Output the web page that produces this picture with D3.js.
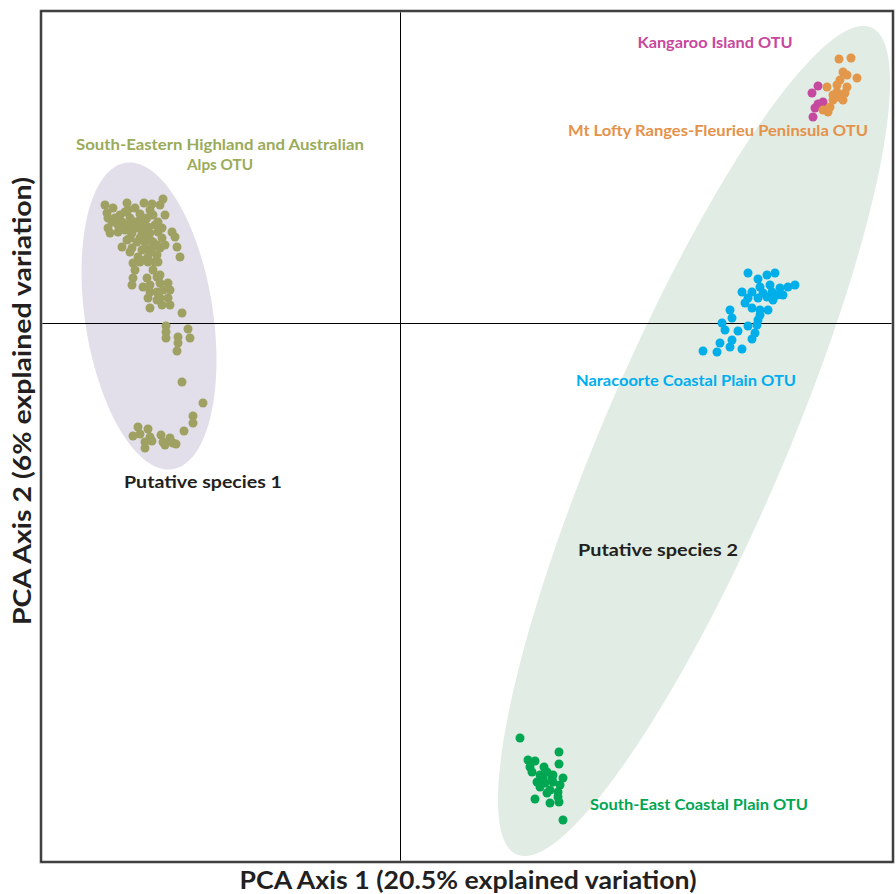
<!DOCTYPE html>
<html>
<head>
<meta charset="utf-8">
<script src="https://cdn.jsdelivr.net/npm/d3@7"></script>
<style>
  html, body { margin: 0; padding: 0; background: #ffffff; }
  svg { display: block; font-family: Lato, "Open Sans", sans-serif; }
</style>
</head>
<body>
<svg id="chart" width="896" height="894"></svg>
<script>
// PCA scores (axis 1, axis 2) for each sample, grouped by OTU
const seHighlandX = [-29.5,-28.7,-29.3,-27.3,-27.2,-25.6,-24.8,-24.0,-23.7,-23.5,-29.2,-28.5,-28.0,-27.8,-29.2,-29.0,-28.2,-28.8,-27.2,-26.5,-26.0,-25.3,-24.7,-26.2,-25.2,-24.5,-26.8,-25.8,-25.0,-24.2,-27.3,-26.3,-25.5,-24.7,-23.8,-22.8,-22.5,-22.3,-27.8,-26.8,-25.8,-24.8,-24.0,-26.2,-25.2,-24.3,-25.2,-24.2,-22.0,-27.0,-26.7,-26.5,-26.7,-26.8,-25.3,-24.3,-24.7,-24.0,-25.7,-25.0,-24.0,-23.2,-25.0,-24.3,-23.7,-23.0,-25.2,-24.0,-23.2,-23.0,-25.0,-23.8,-21.8,-24.3,-25.5,-24.5,-27.5,-27.0,-26.0,-25.3,-26.5,-25.5,-25.0,-24.3,-27.0,-26.0,-28.2,-27.5,-26.5,-25.0,-24.2,-23.8,-23.5,-25.5,-25.0,-26.0,-23.4,-21.2,-23.4,-23.4,-22.2,-21.0,-22.2,-22.3,-21.8,-19.7,-20.7,-20.7,-21.6,-26.2,-26.7,-25.2,-26.0,-25.0,-25.5,-24.8,-25.5,-23.9,-23.7,-23.0,-23.5,-22.7,-22.4];
const seHighlandY = [11.8,11.5,11.0,12.0,11.3,12.0,11.9,11.8,12.4,10.8,10.5,10.5,10.8,10.1,9.5,9.0,9.1,10.1,9.8,10.1,10.9,10.5,10.8,9.6,9.6,9.8,9.0,9.0,9.0,9.1,8.3,8.1,8.1,8.1,8.5,9.1,8.6,7.6,7.6,7.5,7.3,7.5,7.5,6.6,6.6,6.8,6.1,6.1,6.6,7.1,6.0,5.3,4.5,3.8,4.5,4.6,5.3,4.8,3.6,3.8,4.0,4.0,3.1,3.1,3.3,3.3,2.5,2.5,2.5,1.8,1.5,1.8,1.0,2.3,6.3,6.1,9.3,8.5,8.5,8.5,9.5,9.8,8.3,7.8,10.5,10.3,9.8,11.1,11.5,11.3,10.1,9.5,7.8,7.5,7.1,6.1,-0.3,-0.6,-0.9,-1.5,-1.4,-1.5,-2.0,-2.8,-5.9,-8.0,-9.3,-10.0,-10.8,-10.4,-11.3,-10.6,-11.1,-11.4,-11.9,-11.8,-12.5,-11.2,-11.9,-11.5,-12.2,-12.0,-12.1];

const naracoorteX = [34.8,35.8,36.7,37.5,37.0,36.0,35.2,34.2,36.3,37.2,38.0,38.8,39.5,37.7,38.3,36.7,37.3,34.8,35.8,34.5,35.2,36.0,36.8,36.0,33.0,33.2,35.8,32.2,32.5,33.8,34.8,35.7,35.5,35.2,33.2,32.0,33.0,34.2,31.7,30.3];
const naracoorteY = [5.0,4.4,4.8,5.0,3.8,3.6,3.1,3.1,3.0,3.1,3.5,3.6,3.8,2.8,2.8,2.6,2.3,2.5,2.5,2.0,1.5,1.3,1.3,0.8,1.3,0.5,0.3,0.0,-0.7,-0.8,-0.3,-0.2,-1.0,-1.6,-1.7,-2.0,-2.4,-2.6,-2.9,-2.8];

const kangarooX = [41.8,41.2,42.3,41.8,41.5,41.3];
const kangarooY = [23.7,23.0,22.1,21.9,21.5,20.6];

const mtLoftyX = [43.9,45.1,44.3,44.7,45.7,44.0,43.7,44.7,43.7,42.7,44.5,44.3,43.3,43.0,42.3,42.8,43.8,43.3];
const mtLoftyY = [26.4,26.5,25.1,24.8,24.5,24.3,23.8,23.6,23.1,23.6,23.0,22.3,22.3,21.6,21.3,21.1,22.6,22.8];

const seCoastalX = [12.0,15.9,12.8,13.5,13.0,14.4,15.9,13.2,14.0,14.7,15.3,16.3,13.7,14.5,15.3,16.0,14.0,15.0,15.8,14.7,15.8,13.5,15.0,15.9,16.3,14.3,15.2];
const seCoastalY = [-41.5,-42.9,-43.7,-43.8,-44.4,-44.4,-44.1,-44.9,-45.2,-44.9,-45.2,-45.5,-45.9,-46.0,-45.9,-46.2,-46.4,-46.7,-46.9,-47.0,-47.4,-47.6,-48.0,-47.9,-49.7,-45.5,-45.5];

// Putative species envelopes: centre, semi-axes and tilt (degrees, anticlockwise)
const speciesNames = ["Putative species 1", "Putative species 2"];
const envelopeCx = [-25.1, 29.4];
const envelopeCy = [0.7, -11.8];
const envelopeRx = [6.4, 9.1];
const envelopeRy = [15.5, 45.0];
const envelopeTilt = [8.7, -23.2];

// Axis titles
const xTitle = "PCA Axis 1 (20.5% explained variation)";
const yTitle = "PCA Axis 2 (6% explained variation)";

const svg = d3.select("#chart");
const frame = { left: 41, top: 11, right: 893, bottom: 862 };

const x = d3.scaleLinear().domain([-35.9, 49.3]).range([frame.left, frame.right]);
const y = d3.scaleLinear().domain([31.2, -53.9]).range([frame.top, frame.bottom]);

// Envelopes
const envelopeFill = ["#e2dfea", "#e1ece4"];
const line = d3.line().x(d => x(d[0])).y(d => y(d[1])).curve(d3.curveLinearClosed);
speciesNames.forEach((name, i) => {
  const th = envelopeTilt[i] * Math.PI / 180;
  const pts = d3.range(0, 180).map(k => {
    const t = k / 180 * 2 * Math.PI;
    const u = envelopeRx[i] * Math.cos(t), v = envelopeRy[i] * Math.sin(t);
    return [envelopeCx[i] + u * Math.cos(th) - v * Math.sin(th),
            envelopeCy[i] + u * Math.sin(th) + v * Math.cos(th)];
  });
  svg.append("path").attr("d", line(pts)).attr("fill", envelopeFill[i]);
});

// Zero lines, snapped to the pixel grid so they stay crisp
svg.append("line")
  .attr("x1", x(0) + 0.5).attr("x2", x(0) + 0.5).attr("y1", frame.top).attr("y2", frame.bottom)
  .attr("stroke", "#000").attr("stroke-width", 1);
svg.append("line")
  .attr("x1", frame.left).attr("x2", frame.right).attr("y1", y(0) + 0.5).attr("y2", y(0) + 0.5)
  .attr("stroke", "#000").attr("stroke-width", 1);

// Frame
svg.append("rect")
  .attr("x", frame.left).attr("y", frame.top)
  .attr("width", frame.right - frame.left).attr("height", frame.bottom - frame.top)
  .attr("fill", "none").attr("stroke", "#9a9a9a").attr("stroke-width", 3);
svg.append("rect")
  .attr("x", frame.left).attr("y", frame.top)
  .attr("width", frame.right - frame.left).attr("height", frame.bottom - frame.top)
  .attr("fill", "none").attr("stroke", "#111").attr("stroke-width", 1.3);

// Sample points
const groups = [
  { xs: seHighlandX, ys: seHighlandY, color: "#9ea162" },
  { xs: naracoorteX, ys: naracoorteY, color: "#00aeea" },
  { xs: kangarooX, ys: kangarooY, color: "#c54a9f" },
  { xs: mtLoftyX, ys: mtLoftyY, color: "#e3974b" },
  { xs: seCoastalX, ys: seCoastalY, color: "#00a651" }
];
groups.forEach(g => {
  svg.append("g").selectAll("circle")
    .data(d3.zip(g.xs, g.ys))
    .join("circle")
    .attr("cx", d => x(d[0]))
    .attr("cy", d => y(d[1]))
    .attr("r", 4.5)
    .attr("fill", g.color);
});

// Labels
function label(text, cx, cy, color, size, width, rotate) {
  const t = svg.append("text")
    .attr("x", cx).attr("y", cy).attr("dy", "0.35em")
    .attr("text-anchor", "middle")
    .attr("font-weight", 700)
    .attr("font-size", size)
    .attr("fill", color)
    .attr("textLength", width)
    .attr("lengthAdjust", "spacingAndGlyphs")
    .text(text);
  if (rotate) t.attr("transform", `rotate(${rotate},${cx},${cy})`);
}
label("South-Eastern Highland and Australian", 220, 145, "#9aab5a", 15.5, 288);
label("Alps OTU", 220, 165, "#9aab5a", 15.5, 66);
label("Kangaroo Island OTU", 715, 43, "#c8479d", 15.5, 155);
label("Mt Lofty Ranges-Fleurieu Peninsula OTU", 718, 131, "#e4924a", 15.5, 300);
label("Naracoorte Coastal Plain OTU", 686, 381, "#00aeef", 15.5, 220);
label("South-East Coastal Plain OTU", 699, 805, "#00a651", 15.5, 218);
label(speciesNames[0], 203, 482, "#231f20", 17, 158);
label(speciesNames[1], 658, 550, "#231f20", 17, 160);
label(xTitle, 468, 881, "#231f20", 24, 457);
label(yTitle, 23, 401, "#231f20", 24, 448, -90);
</script>
</body>
</html>
